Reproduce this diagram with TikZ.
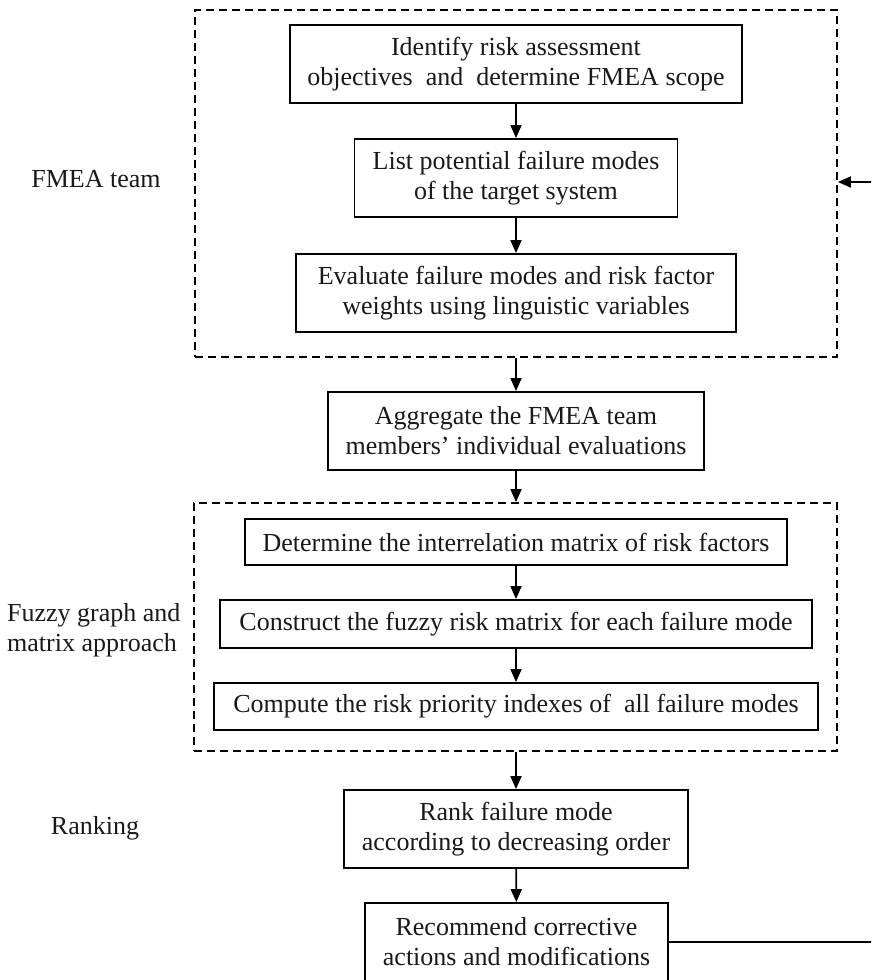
\documentclass[tikz,border=0pt]{standalone}
\usepackage{fontspec}
\setmainfont{Liberation Serif}
\usetikzlibrary{arrows.meta}
\begin{document}
\begin{tikzpicture}[x=1pt,y=-1pt,
 box/.style={draw, line width=1.8pt, inner sep=0pt, align=center,
   font=\fontsize{26}{30}\selectfont, text=black!90},
 grp/.style={draw, line width=1.8pt, dash pattern=on 8pt off 5pt, inner sep=0pt},
 arr/.style={-{Triangle[length=13pt,width=11pt]}, line width=1.8pt},
 lbl/.style={font=\fontsize{26}{30}\selectfont, align=left, inner sep=0pt, text=black!90}]
\useasboundingbox (0,0) rectangle (871,980);
\clip (0,0) rectangle (871,980);
% groups
\node[grp, minimum width=642pt, minimum height=347pt] (ga) at (516,183.5) {};
\node[grp, minimum width=643pt, minimum height=248pt] (gb) at (515.5,627) {};
% boxes
\node[box, minimum width=452pt, minimum height=78pt] (b1) at (516,64)
  {Identify risk assessment\\objectives\ \ and\ \ determine FMEA scope};
\node[box, minimum width=323pt, minimum height=78pt] (b2) at (516,178)
  {List potential failure modes\\of the target system};
\node[box, minimum width=440pt, minimum height=78pt] (b3) at (516,293)
  {Evaluate failure modes and risk factor\\weights using linguistic variables};
\node[box, minimum width=376pt, minimum height=78pt] (b4) at (516,431)
  {Aggregate the FMEA team\\members' individual evaluations};
\node[box, minimum width=542pt, minimum height=46pt] (b5) at (516,542)
  {Determine the interrelation matrix of risk factors};
\node[box, minimum width=592pt, minimum height=48pt] (b6) at (516,624)
  {Construct the fuzzy risk matrix for each failure mode};
\node[box, minimum width=604pt, minimum height=47pt] (b7) at (516,706.5)
  {Compute the risk priority indexes of\ \ all failure modes};
\node[box, minimum width=344pt, minimum height=78pt] (b8) at (516,829)
  {Rank failure mode\\according to decreasing order};
\node[box, minimum width=303pt, minimum height=78pt] (b9) at (516.5,942)
  {Recommend corrective\\actions and modifications};
% labels
\node[lbl] (l1) at (96,179) {FMEA team};
\node[lbl, anchor=west] (l2) at (7,630) {Fuzzy graph and\\matrix approach};
\node[lbl] (l3) at (95,828) {Ranking};
% connectors
\draw[arr] (b1) -- (b2);
\draw[arr] (b2) -- (b3);
\draw[arr] (ga.south) -- (b4);
\draw[arr] (b4) -- (gb.north -| b4);
\draw[arr] (b5) -- (b6);
\draw[arr] (b6) -- (b7);
\draw[arr] (gb.south -| b8) -- (b8);
\draw[arr] (b8) -- (b9);
\coordinate (fr) at (885,942);
\coordinate (ft) at (885,182);
\draw[line width=1.8pt] (b9.east) -- (fr) -- (ft);
\draw[arr] (ft) -- (ft -| ga.east);
\end{tikzpicture}
\end{document}
